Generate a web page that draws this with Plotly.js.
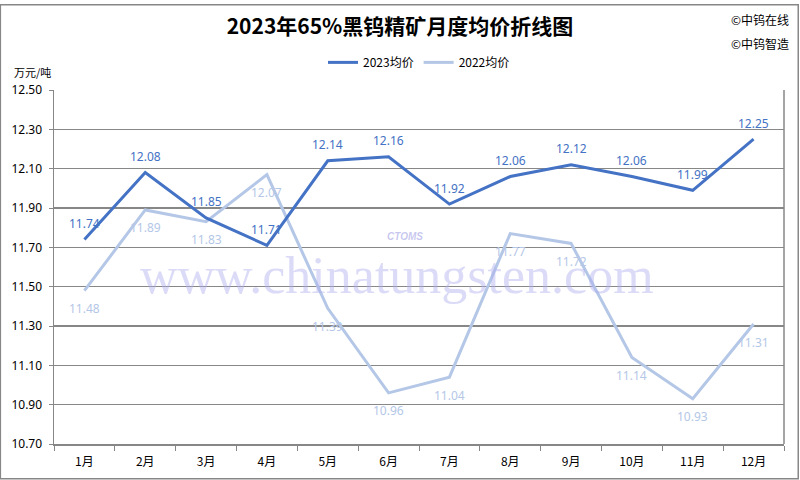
<!DOCTYPE html>
<html>
<head>
<meta charset="utf-8">
<script src="https://cdn.plot.ly/plotly-3.0.1.min.js"></script>
<style>
html,body{margin:0;padding:0;background:#fff;}
#chart{width:800px;height:480px;}
</style>
</head>
<body>
<div id="chart"></div>
<script>
const months = ["1月","2月","3月","4月","5月","6月","7月","8月","9月","10月","11月","12月"];
const avg2023 = [11.74, 12.08, 11.85, 11.71, 12.14, 12.16, 11.92, 12.06, 12.12, 12.06, 11.99, 12.25];
const avg2022 = [11.48, 11.89, 11.83, 12.07, 11.39, 10.96, 11.04, 11.77, 11.72, 11.14, 10.93, 11.31];
const yTicks = [10.70, 10.90, 11.10, 11.30, 11.50, 11.70, 11.90, 12.10, 12.30, 12.50];

const cjk = '"Noto Sans CJK SC", "Noto Sans", sans-serif';
const num = '"Noto Sans", "Open Sans", sans-serif';
const c2023 = "#4472C4";
const c2022 = "#B4C7E7";

const traces = [
  {
    x: months, y: avg2022, name: "2022均价", type: "scatter", mode: "lines",
    line: {color: c2022, width: 3}
  },
  {
    x: months, y: avg2023, name: "2023均价", type: "scatter", mode: "lines",
    line: {color: c2023, width: 3}
  }
];

const labelAnn = [];
months.forEach((m, i) => {
  labelAnn.push({x: m, y: avg2023[i], xref: "x", yref: "y", text: avg2023[i].toFixed(2), showarrow: false,
    yshift: 16, font: {family: num, size: 12, color: c2023}});
  labelAnn.push({x: m, y: avg2022[i], xref: "x", yref: "y", text: avg2022[i].toFixed(2), showarrow: false,
    yshift: -18, font: {family: num, size: 12, color: c2022}});
});

const layout = {
  width: 800, height: 480,
  margin: {l: 54, r: 16, t: 90, b: 36},
  paper_bgcolor: "#fff", plot_bgcolor: "#fff",
  title: {text: "<b>2023年65%黑钨精矿月度均价折线图</b>", x: 0.5, xanchor: "center", y: 0.945, yanchor: "middle",
          font: {family: cjk, size: 21, color: "#000"}},
  showlegend: true,
  legend: {orientation: "h", x: 0.5, xanchor: "center", y: 1.078, yanchor: "middle",
           traceorder: "reversed", font: {family: cjk, size: 12, color: "#000"}},
  xaxis: {
    type: "category", showgrid: false, zeroline: false,
    showline: true, linecolor: "#878787", linewidth: 1.5, mirror: false,
    ticks: "outside", ticklen: 5, tickcolor: "#878787", tickson: "boundaries",
    tickfont: {family: cjk, size: 12, color: "#000"}, ticklabelstandoff: 6,
    range: [-0.5, 11.5]
  },
  yaxis: {
    range: [10.70, 12.50], tickvals: yTicks, tickformat: ".2f",
    showgrid: true, gridcolor: "#878787", gridwidth: 1.2, zeroline: false,
    showline: true, linecolor: "#878787", linewidth: 1.5,
    ticks: "outside", ticklen: 4, tickcolor: "#878787", ticklabelstandoff: 4,
    tickfont: {family: num, size: 12, color: "#000"}
  },
  shapes: [
    {type: "line", xref: "paper", yref: "paper", x0: 1, x1: 1, y0: 0, y1: 1, line: {color: "#878787", width: 1.5}},
    {type: "rect", xref: "paper", yref: "paper", x0: -0.0735, x1: 1.0195, y0: -0.0985, y1: 1.2405, line: {color: "#878787", width: 1.5}, layer: "below"}
  ],
  annotations: [
    {text: "www.chinatungsten.com", xref: "paper", yref: "paper", x: 0.47, y: 0.475, xanchor: "center", yanchor: "middle", showarrow: false,
     font: {family: '"Liberation Serif", "DejaVu Serif", serif', size: 52, color: "rgba(175,175,240,0.45)"}},
    {text: "<b><i>CTOMS</i></b>", xref: "paper", yref: "paper", x: 0.481, y: 0.585, xanchor: "center", yanchor: "middle", showarrow: false,
     font: {family: '"Liberation Sans", sans-serif', size: 10, color: "rgba(130,130,220,0.45)"}},
    {text: "万元/吨", xref: "paper", yref: "paper", x: -0.058, y: 1.05, xanchor: "left", yanchor: "middle", showarrow: false,
     font: {family: cjk, size: 11, color: "#000"}},
    {text: "©中钨在线", xref: "paper", yref: "paper", x: 1.01, y: 1.2, xanchor: "right", yanchor: "middle", showarrow: false,
     font: {family: cjk, size: 12, color: "#000"}},
    {text: "©中钨智造", xref: "paper", yref: "paper", x: 1.01, y: 1.13, xanchor: "right", yanchor: "middle", showarrow: false,
     font: {family: cjk, size: 12, color: "#000"}}
  ].concat(labelAnn)
};

Plotly.newPlot("chart", traces, layout, {displayModeBar: false, staticPlot: true});
</script>
</body>
</html>
